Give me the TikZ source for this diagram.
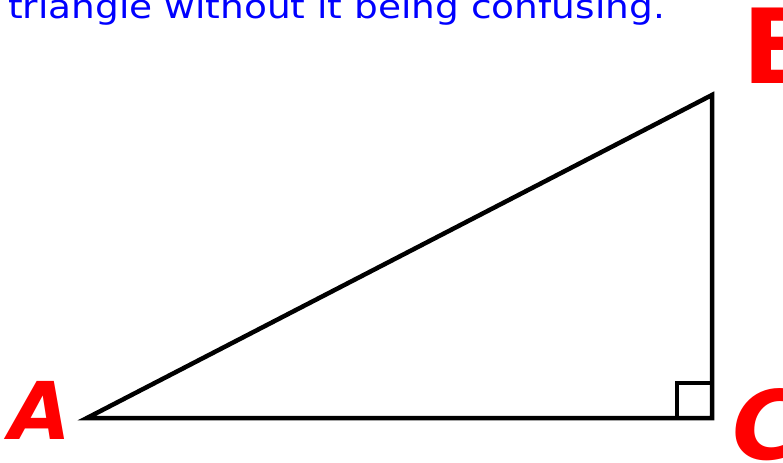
\documentclass[tikz,border=0pt]{standalone}
\usepackage{fontspec}
\setmainfont{DejaVu Sans}
\usepackage{xcolor}
\usepackage{tikz}
\usetikzlibrary{positioning}

\begin{document}
\begin{tikzpicture}[
  x=1bp, y=-1bp,
  side/.style  = {line width=4.5bp, line join=miter, black},
  vlabel/.style= {font=\fontsize{80}{80}\selectfont\bfseries\itshape,
                  text=red, inner sep=0pt},
  note/.style  = {font=\fontsize{33}{33}\selectfont, text=blue,
                  inner sep=0pt, xscale=1.14}
]
\useasboundingbox (0,0) rectangle (783,463);
\clip (0,0) rectangle (783,463);

% ===================== CAPTION (cut off at top) =====================
\node[note, anchor=base west] (caption) at (8,19)
  {triangle without it being confusing.};

% ===================== TRIANGLE =====================
\coordinate (A) at (87,418);
\coordinate (B) at (712,95);
\coordinate (C) at (712,418);
\draw[side] (A) -- (B) -- (C) -- cycle;

% right angle mark
\draw[side] ([xshift=-35bp]C) |- ([yshift=35bp]C);

% ===================== VERTEX LABELS =====================
\node[vlabel, left=16bp of A, yshift=8bp] (labA) {A};
\node[vlabel, font=\fontsize{104}{104}\selectfont\bfseries,
      anchor=north west] (labB) at (742,8) {B};
\node[vlabel, font=\fontsize{96}{96}\selectfont\bfseries\itshape,
      anchor=north west] (labC) at (732,388) {C};

\end{tikzpicture}
\end{document}
